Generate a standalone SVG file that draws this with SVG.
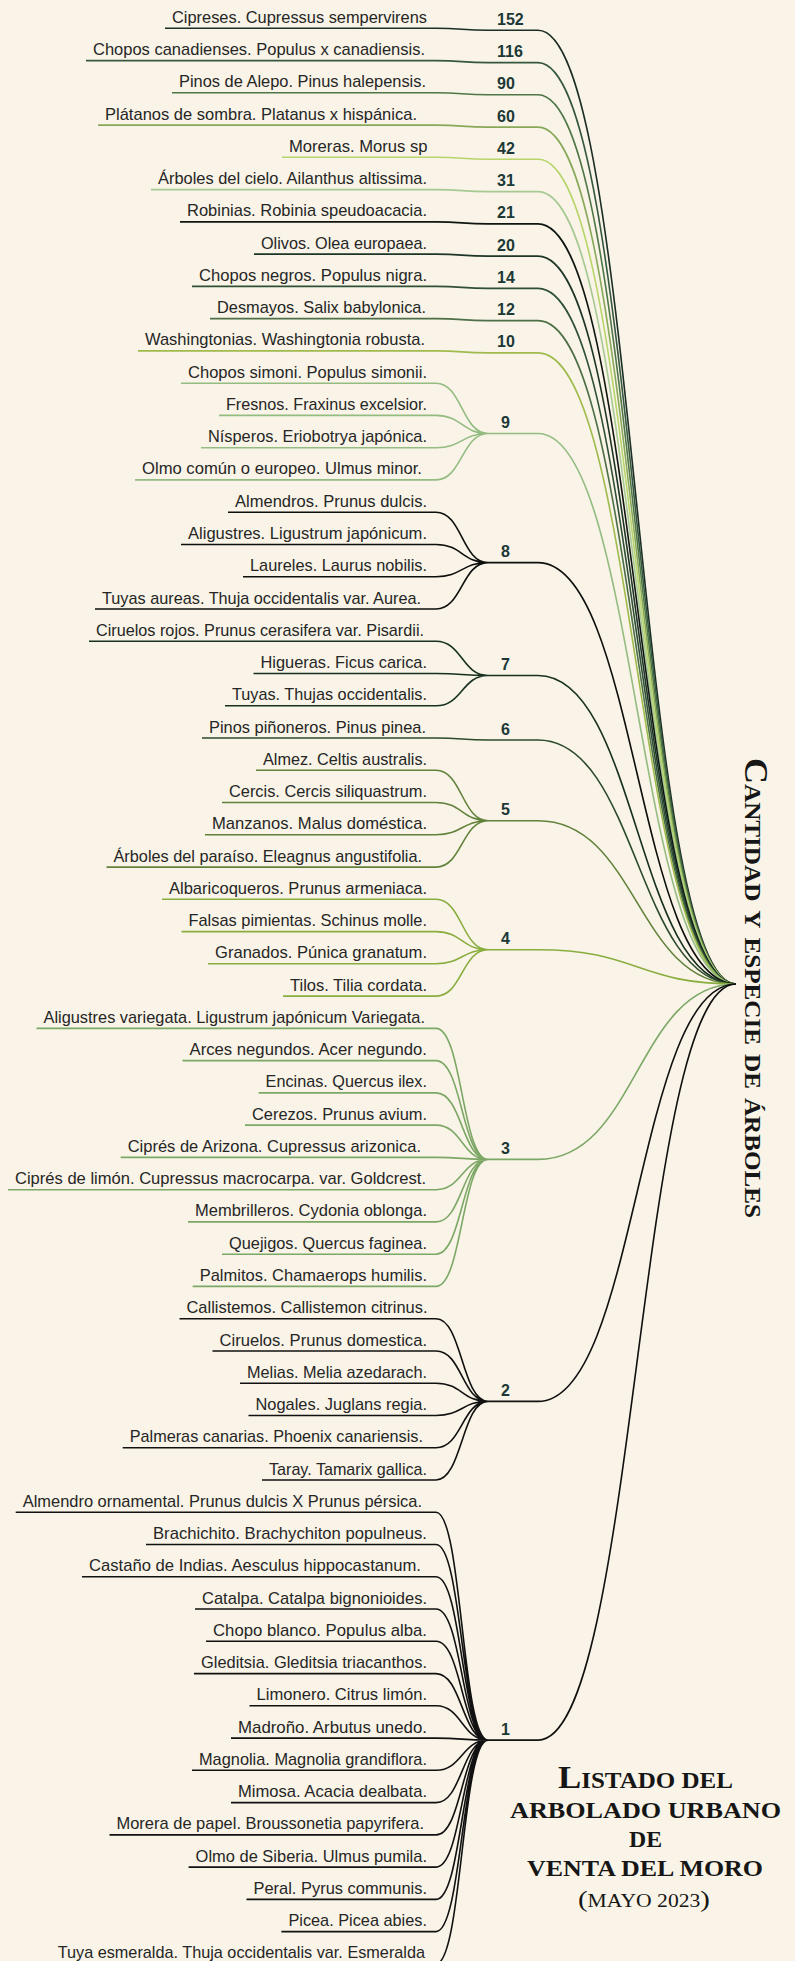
<svg xmlns="http://www.w3.org/2000/svg" width="795" height="1961" viewBox="0 0 795 1961">
<style>
.lbl{font-family:"Liberation Sans",Arial,sans-serif;font-size:17px;fill:#262626}
.num{font-family:"Liberation Sans",Arial,sans-serif;font-size:16px;font-weight:bold;fill:#1c3836}
.ttl{font-family:"Liberation Serif","Times New Roman",serif;font-weight:bold;font-variant:small-caps;fill:#161616}
.mt{font-family:"Liberation Serif","Times New Roman",serif;font-weight:bold;fill:#161616}
.up{text-transform:uppercase}
#connectors path{fill:none;stroke-width:1.6}
.g152{stroke:#1b2d24}.g116{stroke:#36573f}.g90{stroke:#4f7747}.g60{stroke:#88a85a}.g42{stroke:#b7d56b}.g31{stroke:#a6c993}
.g21{stroke:#0f1510}.g20{stroke:#1d3527}.g14{stroke:#2f4f36}.g12{stroke:#4c6f47}.g10{stroke:#9fbb4e}.g9{stroke:#93bb82}
.g8{stroke:#0d0f0c}.g7{stroke:#173020}.g6{stroke:#2c4a2c}.g5{stroke:#62823c}.g4{stroke:#89ad3e}.g3{stroke:#7ca766}
.g2{stroke:#111111}.g1{stroke:#111111}
</style>
<rect x="0" y="0" width="795" height="1961" fill="#f9f4e7"/>
<g id="connectors">
<path class="g152" d="M165 28.3H436C462 28.3 462 30.3 488 30.3H538C637 30.3 637 984 736 984"/>
<path class="g116" d="M86 60.6H436C462 60.6 462 62.6 488 62.6H538C637 62.6 637 984 736 984"/>
<path class="g90" d="M172 92.8H436C462 92.8 462 94.8 488 94.8H538C637 94.8 637 984 736 984"/>
<path class="g60" d="M98 125.1H436C462 125.1 462 127.1 488 127.1H538C637 127.1 637 984 736 984"/>
<path class="g42" d="M282 157.3H436C462 157.3 462 159.3 488 159.3H538C637 159.3 637 984 736 984"/>
<path class="g31" d="M151 189.6H436C462 189.6 462 191.6 488 191.6H538C637 191.6 637 984 736 984"/>
<path class="g21" d="M180 221.9H436C462 221.9 462 223.9 488 223.9H538C637 223.9 637 984 736 984"/>
<path class="g20" d="M254 254.1H436C462 254.1 462 256.1 488 256.1H538C637 256.1 637 984 736 984"/>
<path class="g14" d="M192 286.4H436C462 286.4 462 288.4 488 288.4H538C637 288.4 637 984 736 984"/>
<path class="g12" d="M210 318.6H436C462 318.6 462 320.6 488 320.6H538C637 320.6 637 984 736 984"/>
<path class="g10" d="M138 350.9H436C462 350.9 462 352.9 488 352.9H538C637 352.9 637 984 736 984"/>
<path class="g9" d="M181 383.2H436C462 383.2 462 433.5 488 433.5M219 415.4H436C462 415.4 462 433.5 488 433.5M201 447.7H436C462 447.7 462 433.5 488 433.5M135 479.9H436C462 479.9 462 433.5 488 433.5M488 433.5H538C637 433.5 637 984 736 984"/>
<path class="g8" d="M228 512.2H436C462 512.2 462 562.6 488 562.6M181 544.5H436C462 544.5 462 562.6 488 562.6M243 576.7H436C462 576.7 462 562.6 488 562.6M95 609H436C462 609 462 562.6 488 562.6M488 562.6H538C637 562.6 637 984 736 984"/>
<path class="g7" d="M89 641.2H436C462 641.2 462 675.5 488 675.5M253.5 673.5H436C462 673.5 462 675.5 488 675.5M225 705.8H436C462 705.8 462 675.5 488 675.5M488 675.5H538C637 675.5 637 984 736 984"/>
<path class="g6" d="M202 738H436C462 738 462 740 488 740H538C637 740 637 984 736 984"/>
<path class="g5" d="M256 770.3H436C462 770.3 462 820.7 488 820.7M222 802.5H436C462 802.5 462 820.7 488 820.7M205 834.8H436C462 834.8 462 820.7 488 820.7M106.5 867.1H436C462 867.1 462 820.7 488 820.7M488 820.7H538C637 820.7 637 984 736 984"/>
<path class="g4" d="M162 899.3H436C462 899.3 462 949.7 488 949.7M181.5 931.6H436C462 931.6 462 949.7 488 949.7M208 963.8H436C462 963.8 462 949.7 488 949.7M283 996.1H436C462 996.1 462 949.7 488 949.7M488 949.7H538C637 949.7 637 984 736 984"/>
<path class="g3" d="M36.5 1028.4H436C462 1028.4 462 1159.4 488 1159.4M182.5 1060.6H436C462 1060.6 462 1159.4 488 1159.4M258.6 1092.9H436C462 1092.9 462 1159.4 488 1159.4M245 1125.1H436C462 1125.1 462 1159.4 488 1159.4M120.7 1157.4H436C462 1157.4 462 1159.4 488 1159.4M8 1189.7H436C462 1189.7 462 1159.4 488 1159.4M188 1221.9H436C462 1221.9 462 1159.4 488 1159.4M222 1254.2H436C462 1254.2 462 1159.4 488 1159.4M192.7 1286.4H436C462 1286.4 462 1159.4 488 1159.4M488 1159.4H538C637 1159.4 637 984 736 984"/>
<path class="g2" d="M179.5 1318.7H436C462 1318.7 462 1401.4 488 1401.4M212.5 1351H436C462 1351 462 1401.4 488 1401.4M240 1383.2H436C462 1383.2 462 1401.4 488 1401.4M248.5 1415.5H436C462 1415.5 462 1401.4 488 1401.4M122.7 1447.7H436C462 1447.7 462 1401.4 488 1401.4M262 1480H436C462 1480 462 1401.4 488 1401.4M488 1401.4H538C637 1401.4 637 984 736 984"/>
<path class="g1" d="M15.7 1512.3H436C462 1512.3 462 1740.1 488 1740.1M146 1544.5H436C462 1544.5 462 1740.1 488 1740.1M82 1576.8H436C462 1576.8 462 1740.1 488 1740.1M195 1609H436C462 1609 462 1740.1 488 1740.1M206 1641.3H436C462 1641.3 462 1740.1 488 1740.1M194 1673.6H436C462 1673.6 462 1740.1 488 1740.1M249.5 1705.8H436C462 1705.8 462 1740.1 488 1740.1M231 1738.1H436C462 1738.1 462 1740.1 488 1740.1M192 1770.3H436C462 1770.3 462 1740.1 488 1740.1M231 1802.6H436C462 1802.6 462 1740.1 488 1740.1M109.5 1834.9H436C462 1834.9 462 1740.1 488 1740.1M188.6 1867.1H436C462 1867.1 462 1740.1 488 1740.1M246.5 1899.4H436C462 1899.4 462 1740.1 488 1740.1M281.4 1931.6H436C462 1931.6 462 1740.1 488 1740.1M50.7 1963.9H436C462 1963.9 462 1740.1 488 1740.1M488 1740.1H538C637 1740.1 637 984 736 984"/>
</g>
<g id="species" class="lbl">
<g id="n0"><text x="172" y="22.8" textLength="255" lengthAdjust="spacingAndGlyphs">Cipreses. Cupressus sempervirens</text></g>
<g id="n1"><text x="93" y="55.1" textLength="332" lengthAdjust="spacingAndGlyphs">Chopos canadienses. Populus x canadiensis.</text></g>
<g id="n2"><text x="179" y="87.3" textLength="247" lengthAdjust="spacingAndGlyphs">Pinos de Alepo. Pinus halepensis.</text></g>
<g id="n3"><text x="105" y="119.6" textLength="312" lengthAdjust="spacingAndGlyphs">Plátanos de sombra. Platanus x hispánica.</text></g>
<g id="n4"><text x="289" y="151.8" textLength="138.5" lengthAdjust="spacingAndGlyphs">Moreras. Morus sp</text></g>
<g id="n5"><text x="158" y="184.1" textLength="269" lengthAdjust="spacingAndGlyphs">Árboles del cielo. Ailanthus altissima.</text></g>
<g id="n6"><text x="187" y="216.4" textLength="240" lengthAdjust="spacingAndGlyphs">Robinias. Robinia speudoacacia.</text></g>
<g id="n7"><text x="261" y="248.6" textLength="166" lengthAdjust="spacingAndGlyphs">Olivos. Olea europaea.</text></g>
<g id="n8"><text x="199" y="280.9" textLength="228" lengthAdjust="spacingAndGlyphs">Chopos negros. Populus nigra.</text></g>
<g id="n9"><text x="217" y="313.1" textLength="209" lengthAdjust="spacingAndGlyphs">Desmayos. Salix babylonica.</text></g>
<g id="n10"><text x="145" y="345.4" textLength="280" lengthAdjust="spacingAndGlyphs">Washingtonias. Washingtonia robusta.</text></g>
<g id="n11"><text x="188" y="377.7" textLength="239" lengthAdjust="spacingAndGlyphs">Chopos simoni. Populus simonii.</text></g>
<g id="n12"><text x="226" y="409.9" textLength="201" lengthAdjust="spacingAndGlyphs">Fresnos. Fraxinus excelsior.</text></g>
<g id="n13"><text x="208" y="442.2" textLength="219" lengthAdjust="spacingAndGlyphs">Nísperos. Eriobotrya japónica.</text></g>
<g id="n14"><text x="142" y="474.4" textLength="280" lengthAdjust="spacingAndGlyphs">Olmo común o europeo. Ulmus minor.</text></g>
<g id="n15"><text x="235" y="506.7" textLength="192" lengthAdjust="spacingAndGlyphs">Almendros. Prunus dulcis.</text></g>
<g id="n16"><text x="188" y="539" textLength="239" lengthAdjust="spacingAndGlyphs">Aligustres. Ligustrum japónicum.</text></g>
<g id="n17"><text x="250" y="571.2" textLength="177" lengthAdjust="spacingAndGlyphs">Laureles. Laurus nobilis.</text></g>
<g id="n18"><text x="102" y="603.5" textLength="319" lengthAdjust="spacingAndGlyphs">Tuyas aureas. Thuja occidentalis var. Aurea.</text></g>
<g id="n19"><text x="96" y="635.7" textLength="328" lengthAdjust="spacingAndGlyphs">Ciruelos rojos. Prunus cerasifera var. Pisardii.</text></g>
<g id="n20"><text x="260.5" y="668" textLength="166.5" lengthAdjust="spacingAndGlyphs">Higueras. Ficus carica.</text></g>
<g id="n21"><text x="232" y="700.3" textLength="195" lengthAdjust="spacingAndGlyphs">Tuyas. Thujas occidentalis.</text></g>
<g id="n22"><text x="209" y="732.5" textLength="217" lengthAdjust="spacingAndGlyphs">Pinos piñoneros. Pinus pinea.</text></g>
<g id="n23"><text x="263" y="764.8" textLength="164" lengthAdjust="spacingAndGlyphs">Almez. Celtis australis.</text></g>
<g id="n24"><text x="229" y="797" textLength="198" lengthAdjust="spacingAndGlyphs">Cercis. Cercis siliquastrum.</text></g>
<g id="n25"><text x="212" y="829.3" textLength="215" lengthAdjust="spacingAndGlyphs">Manzanos. Malus doméstica.</text></g>
<g id="n26"><text x="113.5" y="861.6" textLength="308.5" lengthAdjust="spacingAndGlyphs">Árboles del paraíso. Eleagnus angustifolia.</text></g>
<g id="n27"><text x="169" y="893.8" textLength="258" lengthAdjust="spacingAndGlyphs">Albaricoqueros. Prunus armeniaca.</text></g>
<g id="n28"><text x="188.5" y="926.1" textLength="238.5" lengthAdjust="spacingAndGlyphs">Falsas pimientas. Schinus molle.</text></g>
<g id="n29"><text x="215" y="958.3" textLength="212" lengthAdjust="spacingAndGlyphs">Granados. Púnica granatum.</text></g>
<g id="n30"><text x="290" y="990.6" textLength="137" lengthAdjust="spacingAndGlyphs">Tilos. Tilia cordata.</text></g>
<g id="n31"><text x="43.5" y="1022.9" textLength="381.5" lengthAdjust="spacingAndGlyphs">Aligustres variegata. Ligustrum japónicum Variegata.</text></g>
<g id="n32"><text x="189.5" y="1055.1" textLength="237.5" lengthAdjust="spacingAndGlyphs">Arces negundos. Acer negundo.</text></g>
<g id="n33"><text x="265.6" y="1087.4" textLength="161.4" lengthAdjust="spacingAndGlyphs">Encinas. Quercus ilex.</text></g>
<g id="n34"><text x="252" y="1119.6" textLength="175" lengthAdjust="spacingAndGlyphs">Cerezos. Prunus avium.</text></g>
<g id="n35"><text x="127.7" y="1151.9" textLength="293.3" lengthAdjust="spacingAndGlyphs">Ciprés de Arizona. Cupressus arizonica.</text></g>
<g id="n36"><text x="15" y="1184.2" textLength="411" lengthAdjust="spacingAndGlyphs">Ciprés de limón. Cupressus macrocarpa. var. Goldcrest.</text></g>
<g id="n37"><text x="195" y="1216.4" textLength="232" lengthAdjust="spacingAndGlyphs">Membrilleros. Cydonia oblonga.</text></g>
<g id="n38"><text x="229" y="1248.7" textLength="198" lengthAdjust="spacingAndGlyphs">Quejigos. Quercus faginea.</text></g>
<g id="n39"><text x="199.7" y="1280.9" textLength="227.3" lengthAdjust="spacingAndGlyphs">Palmitos. Chamaerops humilis.</text></g>
<g id="n40"><text x="186.5" y="1313.2" textLength="241" lengthAdjust="spacingAndGlyphs">Callistemos. Callistemon citrinus.</text></g>
<g id="n41"><text x="219.5" y="1345.5" textLength="207.5" lengthAdjust="spacingAndGlyphs">Ciruelos. Prunus domestica.</text></g>
<g id="n42"><text x="247" y="1377.7" textLength="180" lengthAdjust="spacingAndGlyphs">Melias. Melia azedarach.</text></g>
<g id="n43"><text x="255.5" y="1410" textLength="171.5" lengthAdjust="spacingAndGlyphs">Nogales. Juglans regia.</text></g>
<g id="n44"><text x="129.7" y="1442.2" textLength="293.3" lengthAdjust="spacingAndGlyphs">Palmeras canarias. Phoenix canariensis.</text></g>
<g id="n45"><text x="269" y="1474.5" textLength="158" lengthAdjust="spacingAndGlyphs">Taray. Tamarix gallica.</text></g>
<g id="n46"><text x="22.7" y="1506.8" textLength="399.3" lengthAdjust="spacingAndGlyphs">Almendro ornamental. Prunus dulcis X Prunus pérsica.</text></g>
<g id="n47"><text x="153" y="1539" textLength="274" lengthAdjust="spacingAndGlyphs">Brachichito. Brachychiton populneus.</text></g>
<g id="n48"><text x="89" y="1571.3" textLength="332" lengthAdjust="spacingAndGlyphs">Castaño de Indias. Aesculus hippocastanum.</text></g>
<g id="n49"><text x="202" y="1603.5" textLength="225" lengthAdjust="spacingAndGlyphs">Catalpa. Catalpa bignonioides.</text></g>
<g id="n50"><text x="213" y="1635.8" textLength="214" lengthAdjust="spacingAndGlyphs">Chopo blanco. Populus alba.</text></g>
<g id="n51"><text x="201" y="1668.1" textLength="226" lengthAdjust="spacingAndGlyphs">Gleditsia. Gleditsia triacanthos.</text></g>
<g id="n52"><text x="256.5" y="1700.3" textLength="170.5" lengthAdjust="spacingAndGlyphs">Limonero. Citrus limón.</text></g>
<g id="n53"><text x="238" y="1732.6" textLength="189" lengthAdjust="spacingAndGlyphs">Madroño. Arbutus unedo.</text></g>
<g id="n54"><text x="199" y="1764.8" textLength="228" lengthAdjust="spacingAndGlyphs">Magnolia. Magnolia grandiflora.</text></g>
<g id="n55"><text x="238" y="1797.1" textLength="189" lengthAdjust="spacingAndGlyphs">Mimosa. Acacia dealbata.</text></g>
<g id="n56"><text x="116.5" y="1829.4" textLength="307.5" lengthAdjust="spacingAndGlyphs">Morera de papel. Broussonetia papyrifera.</text></g>
<g id="n57"><text x="195.6" y="1861.6" textLength="231.4" lengthAdjust="spacingAndGlyphs">Olmo de Siberia. Ulmus pumila.</text></g>
<g id="n58"><text x="253.5" y="1893.9" textLength="173.5" lengthAdjust="spacingAndGlyphs">Peral. Pyrus communis.</text></g>
<g id="n59"><text x="288.4" y="1926.1" textLength="138.6" lengthAdjust="spacingAndGlyphs">Picea. Picea abies.</text></g>
<g id="n60"><text x="57.7" y="1958.4" textLength="367.3" lengthAdjust="spacingAndGlyphs">Tuya esmeralda. Thuja occidentalis var. Esmeralda</text></g>
</g>
<g id="counts" class="num">
<g id="c152"><text x="497" y="24.8">152</text></g>
<g id="c116"><text x="497" y="57.1">116</text></g>
<g id="c90"><text x="497" y="89.3">90</text></g>
<g id="c60"><text x="497" y="121.6">60</text></g>
<g id="c42"><text x="497" y="153.8">42</text></g>
<g id="c31"><text x="497" y="186.1">31</text></g>
<g id="c21"><text x="497" y="218.4">21</text></g>
<g id="c20"><text x="497" y="250.6">20</text></g>
<g id="c14"><text x="497" y="282.9">14</text></g>
<g id="c12"><text x="497" y="315.1">12</text></g>
<g id="c10"><text x="497" y="347.4">10</text></g>
<g id="c9"><text x="501" y="428">9</text></g>
<g id="c8"><text x="501" y="557.1">8</text></g>
<g id="c7"><text x="501" y="670">7</text></g>
<g id="c6"><text x="501" y="734.5">6</text></g>
<g id="c5"><text x="501" y="815.2">5</text></g>
<g id="c4"><text x="501" y="944.2">4</text></g>
<g id="c3"><text x="501" y="1153.9">3</text></g>
<g id="c2"><text x="501" y="1395.9">2</text></g>
<g id="c1"><text x="501" y="1734.6">1</text></g>
</g>
<g id="title-side"><text class="ttl" transform="translate(745,758) rotate(90)" x="0" y="0" font-size="33" textLength="460" lengthAdjust="spacingAndGlyphs">Cantidad y especie de árboles</text></g>
<g id="title-main" class="mt">
<text x="558" y="1788" textLength="175" lengthAdjust="spacingAndGlyphs"><tspan font-size="32">L</tspan><tspan class="up" font-size="23">istado del</tspan></text>
<text class="up" x="510" y="1818" font-size="23" textLength="271" lengthAdjust="spacingAndGlyphs">arbolado urbano</text>
<text class="up" x="629" y="1847" font-size="23" textLength="33" lengthAdjust="spacingAndGlyphs">de</text>
<text class="up" x="527" y="1876" font-size="23" textLength="236" lengthAdjust="spacingAndGlyphs">venta del moro</text>
<text x="578" y="1907" font-weight="normal" textLength="132" lengthAdjust="spacingAndGlyphs"><tspan font-size="24">(</tspan><tspan class="up" font-size="18">mayo 2023</tspan><tspan font-size="24">)</tspan></text>
</g>
</svg>
